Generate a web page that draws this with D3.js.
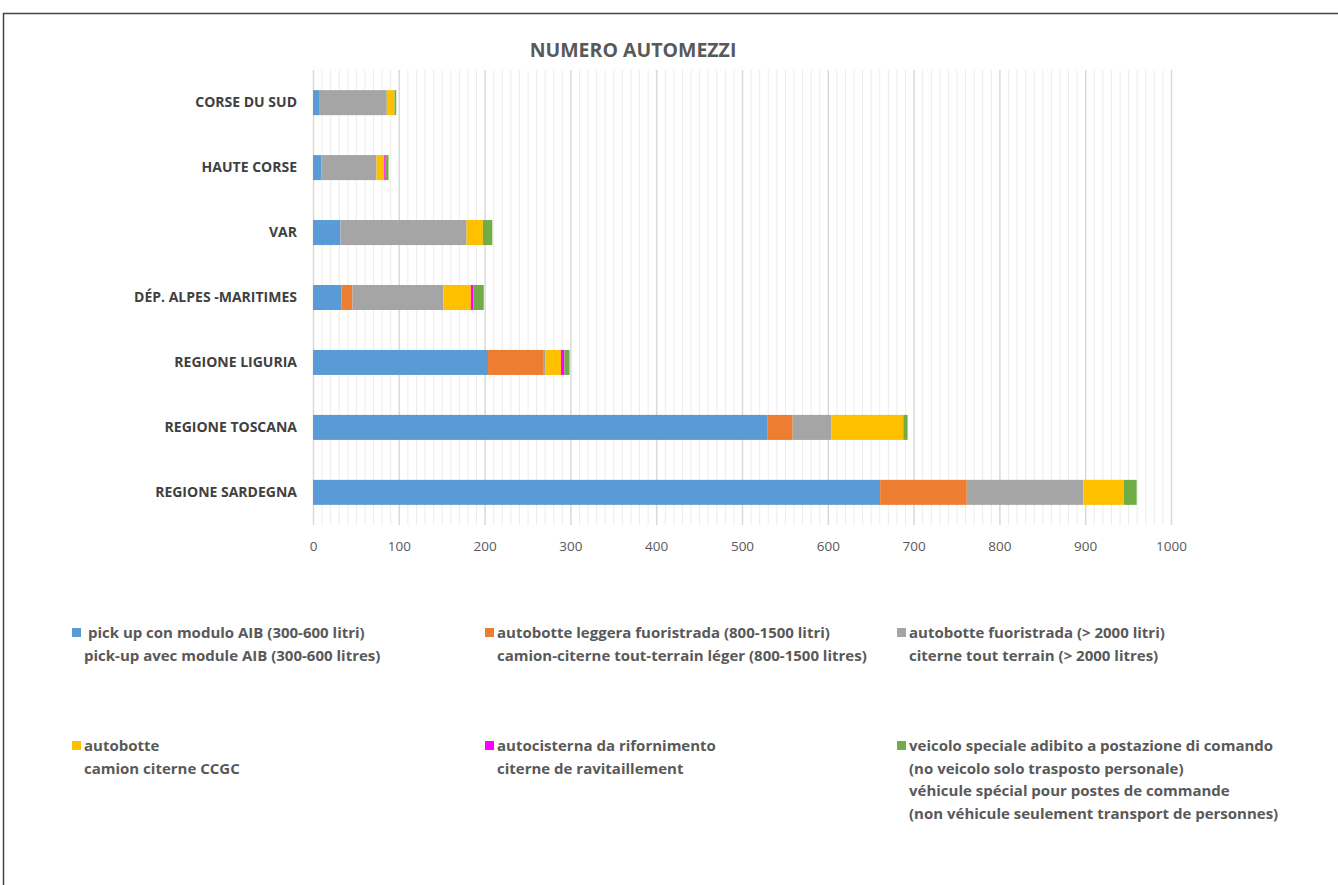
<!DOCTYPE html>
<html>
<head>
<meta charset="utf-8">
<script src="https://cdn.jsdelivr.net/npm/d3@7"></script>
<style>
  body { margin: 0; background: #fff; }
  #chart { width: 1338px; height: 885px; }
</style>
</head>
<body>
<div id="chart"></div>
<script>
// categories, top to bottom
const categories = ["CORSE DU SUD", "HAUTE CORSE", "VAR", "DÉP. ALPES -MARITIMES",
  "REGIONE LIGURIA", "REGIONE TOSCANA", "REGIONE SARDEGNA"];

// series values, one per category
const pickUp      = [7, 10, 32, 33, 204, 530, 661];
const leggera     = [0, 0, 0, 13, 65, 29, 101];
const fuoristrada = [79, 64, 147, 106, 2, 45, 136];
const autobotte   = [9, 9, 19, 32, 18, 84, 47];
const autocist    = [0, 1, 0, 3, 4, 0, 0];
const veicolo     = [2, 4, 11, 12, 6, 5, 15];

const xTicks = [0, 100, 200, 300, 400, 500, 600, 700, 800, 900, 1000];

const seriesKeys = ["pickUp", "leggera", "fuoristrada", "autobotte", "autocist", "veicolo"];
const seriesColors = ["#5B9BD5", "#ED7D31", "#A5A5A5", "#FFC000", "#FF00FF", "#70AD47"];
const legendLines = [
  [" pick up con modulo AIB (300-600 litri)", "pick-up avec module AIB (300-600 litres)"],
  ["autobotte leggera fuoristrada (800-1500 litri)", "camion-citerne tout-terrain léger (800-1500 litres)"],
  ["autobotte fuoristrada (> 2000 litri)", "citerne tout terrain (> 2000 litres)"],
  ["autobotte", "camion citerne CCGC"],
  ["autocisterna da rifornimento", "citerne de ravitaillement"],
  ["veicolo speciale adibito a postazione di comando", "(no veicolo solo trasposto personale)",
   "véhicule spécial pour postes de commande", "(non véhicule seulement transport de personnes)"]
];

const width = 1338, height = 885;
const font = "'Open Sans', Arial, sans-serif";

const svg = d3.select("#chart").append("svg")
  .attr("width", width).attr("height", height)
  .style("font-family", font);

// outer frame
svg.append("rect")
  .attr("x", 3.5).attr("y", 13.5)
  .attr("width", width + 10).attr("height", height)
  .attr("fill", "none").attr("stroke", "#444").attr("stroke-width", 1.5);

// table for the stack
const rows = categories.map((c, i) => ({
  cat: c, pickUp: pickUp[i], leggera: leggera[i], fuoristrada: fuoristrada[i],
  autobotte: autobotte[i], autocist: autocist[i], veicolo: veicolo[i]
}));
const stacked = d3.stack().keys(seriesKeys)(rows);

const x = d3.scaleLinear().domain([0, 1000]).range([313, 1171]);
const y = d3.scaleBand().domain(categories).range([70, 525]).paddingInner(0.615).paddingOuter(0.31);

// minor gridlines
svg.append("g").selectAll("line")
  .data(d3.range(0, 1001, 10).filter(v => v % 100 !== 0))
  .join("line")
  .attr("x1", d => x(d) + 0.5).attr("x2", d => x(d) + 0.5)
  .attr("y1", 70).attr("y2", 525)
  .attr("stroke", "#ececec").attr("stroke-width", 1);

// major gridlines
svg.append("g").selectAll("line")
  .data(xTicks)
  .join("line")
  .attr("x1", d => x(d) + 0.5).attr("x2", d => x(d) + 0.5)
  .attr("y1", 70).attr("y2", 525)
  .attr("stroke", "#d9d9d9").attr("stroke-width", 1.5);

// bars
svg.append("g").selectAll("g")
  .data(stacked)
  .join("g")
  .attr("fill", (d, i) => seriesColors[i])
  .selectAll("rect")
  .data(d => d)
  .join("rect")
  .attr("x", d => x(d[0]))
  .attr("y", d => y(d.data.cat))
  .attr("width", d => Math.max(0, x(d[1]) - x(d[0])))
  .attr("height", y.bandwidth());

// x axis
const xAxis = svg.append("g")
  .attr("transform", "translate(0,525)")
  .call(d3.axisBottom(x).tickValues(xTicks).tickFormat(d3.format("d")).tickSize(0).tickPadding(16));
xAxis.select(".domain").remove();
xAxis.selectAll("text").style("font-size", "13.5px").style("fill", "#595959").style("font-family", font);

// y axis labels
const yAxis = svg.append("g")
  .attr("transform", "translate(297,0)")
  .call(d3.axisLeft(y).tickSize(0).tickPadding(0));
yAxis.select(".domain").remove();
yAxis.selectAll("text").style("font-size", "14px").style("font-weight", "700")
  .style("fill", "#404040").style("font-family", font);

// title
svg.append("text")
  .attr("x", 633).attr("y", 57)
  .attr("text-anchor", "middle")
  .style("font-size", "19.5px").style("font-weight", "700")
  .style("fill", "#595959")
  .text("NUMERO AUTOMEZZI");

// legend
const legendX = [72, 485, 897];
const legendY = [638, 751];
legendLines.forEach((lines, i) => {
  const lx = legendX[i % 3], ly = legendY[Math.floor(i / 3)];
  const g = svg.append("g").attr("transform", `translate(${lx},${ly})`);
  g.append("rect").attr("x", 0).attr("y", -10).attr("width", 9).attr("height", 9)
    .attr("fill", seriesColors[i]);
  lines.forEach((t, j) => {
    g.append("text")
      .attr("x", 12).attr("y", j * 22.5)
      .attr("xml:space", "preserve")
      .style("white-space", "pre")
      .style("font-size", "15px").style("font-weight", "700")
      .style("fill", "#595959")
      .text(t);
  });
});
</script>
</body>
</html>
